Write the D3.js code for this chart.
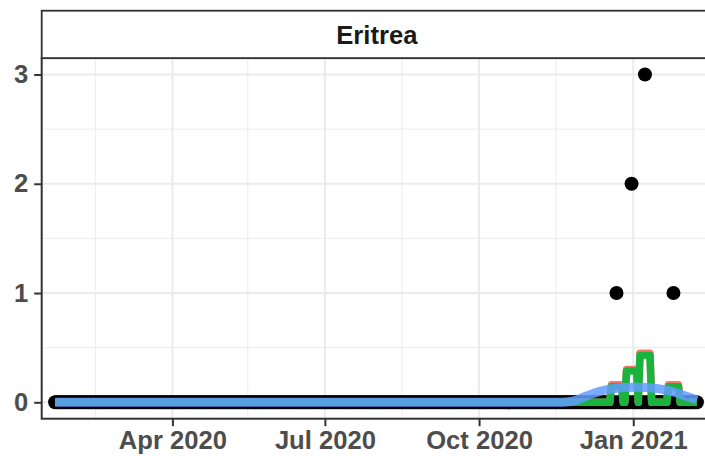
<!DOCTYPE html>
<html>
<head>
<meta charset="utf-8">
<script src="https://cdn.jsdelivr.net/npm/d3@7"></script>
<style>
  body { margin: 0; background: #fff; }
  text { font-family: "Liberation Sans", Arial, Helvetica, sans-serif; font-weight: bold; }
</style>
</head>
<body>
<div id="chart"></div>
<script>
// daily new cases (every day not listed is 0)
const firstDay = "2020-01-22";
const lastDay = "2021-02-08";
const caseDays = ["2020-12-22", "2020-12-31", "2021-01-08", "2021-01-25"];
const caseValues = [1, 2, 3, 1];

// rolling averages, breakpoints only (flat 0 between them)
const avgDates = ["2020-01-22", "2020-12-18", "2020-12-19", "2020-12-25", "2020-12-26", "2020-12-27",
    "2020-12-28", "2021-01-03", "2021-01-04", "2021-01-05", "2021-01-11", "2021-01-12",
    "2021-01-21", "2021-01-22", "2021-01-28", "2021-01-29", "2021-02-08"];
const greenValues = [0, 0, 0.143, 0.143, 0, 0, 0.286, 0.286, 0, 0.429, 0.429, 0, 0, 0.143, 0.143, 0, 0];
const redValues = [0, 0, 0.16, 0.16, 0, 0, 0.30, 0.30, 0, 0.45, 0.45, 0, 0, 0.16, 0.16, 0, 0];

// smooth trend line
const smoothDates = ["2020-01-22", "2020-11-17", "2020-11-22", "2020-11-27", "2020-12-02", "2020-12-07",
    "2020-12-12", "2020-12-17", "2020-12-22", "2020-12-27", "2021-01-01", "2021-01-06", "2021-01-11",
    "2021-01-16", "2021-01-21", "2021-01-26", "2021-01-31", "2021-02-05", "2021-02-08"];
const smoothValues = [0, 0, 0.003, 0.015, 0.045, 0.075, 0.10, 0.118, 0.128, 0.135, 0.138, 0.138, 0.134,
    0.125, 0.11, 0.09, 0.065, 0.038, 0.02];

const facetTitle = "Eritrea";
const yTicks = [0, 1, 2, 3];
const yMinor = [0.5, 1.5, 2.5];
const xTicks = ["2020-04-01", "2020-07-01", "2020-10-01", "2021-01-01"];
const xMinor = ["2020-02-15", "2020-05-16", "2020-08-16", "2020-11-16", "2021-02-15"];

const W = 705, H = 456;
const panel = {left: 41.7, top: 58.1, right: 712, bottom: 418.7};
const stripTop = 10.7;
const fontSize = 25.6;

const parse = d3.utcParse("%Y-%m-%d");

const svg = d3.select("#chart")
    .append("svg")
        .attr("width", W)
        .attr("height", H);

const x = d3.scaleUtc()
    .domain([parse("2020-01-14"), parse("2021-02-17")])
    .range([panel.left, panel.right]);

const y = d3.scaleLinear()
    .domain([-0.15, 3.15])
    .range([panel.bottom, panel.top]);

// build the series
const caseMap = new Map(caseDays.map((d, i) => [d, caseValues[i]]));
const daily = d3.utcDay.range(parse(firstDay), d3.utcDay.offset(parse(lastDay), 1))
    .map(d => ({date: d, value: caseMap.get(d3.utcFormat("%Y-%m-%d")(d)) || 0}));
const green = avgDates.map((d, i) => ({date: parse(d), value: greenValues[i]}));
const red = avgDates.map((d, i) => ({date: parse(d), value: redValues[i]}));
const smooth = smoothDates.map((d, i) => ({date: parse(d), value: smoothValues[i]}));

svg.append("clipPath").attr("id", "panel-clip")
    .append("rect")
        .attr("x", panel.left).attr("y", panel.top)
        .attr("width", panel.right - panel.left)
        .attr("height", panel.bottom - panel.top);

// grid
const grid = svg.append("g");
grid.selectAll(".ymin").data(yMinor).enter().append("line")
    .attr("x1", panel.left).attr("x2", panel.right)
    .attr("y1", d => y(d)).attr("y2", d => y(d))
    .attr("stroke", "#ebebeb").attr("stroke-width", 1);
grid.selectAll(".xmin").data(xMinor).enter().append("line")
    .attr("x1", d => x(parse(d))).attr("x2", d => x(parse(d)))
    .attr("y1", panel.top).attr("y2", panel.bottom)
    .attr("stroke", "#ebebeb").attr("stroke-width", 1);
grid.selectAll(".ymaj").data(yTicks).enter().append("line")
    .attr("x1", panel.left).attr("x2", panel.right)
    .attr("y1", d => y(d)).attr("y2", d => y(d))
    .attr("stroke", "#ebebeb").attr("stroke-width", 2);
grid.selectAll(".xmaj").data(xTicks).enter().append("line")
    .attr("x1", d => x(parse(d))).attr("x2", d => x(parse(d)))
    .attr("y1", panel.top).attr("y2", panel.bottom)
    .attr("stroke", "#ebebeb").attr("stroke-width", 2);

const plot = svg.append("g").attr("clip-path", "url(#panel-clip)");

// points
plot.append("g")
    .selectAll("circle")
    .data(daily)
    .enter().append("circle")
        .attr("cx", d => x(d.date))
        .attr("cy", d => y(d.value))
        .attr("r", 7)
        .attr("fill", "#000");

const line = d3.line()
    .x(d => x(d.date))
    .y(d => y(d.value));

plot.append("path")
    .datum(red)
    .attr("d", line)
    .attr("fill", "none")
    .attr("stroke", "#F8766D")
    .attr("stroke-width", 7.5)
    .attr("stroke-linejoin", "round");

plot.append("path")
    .datum(green)
    .attr("d", line)
    .attr("fill", "none")
    .attr("stroke", "#00BA38")
    .attr("stroke-opacity", 0.9)
    .attr("stroke-width", 7.5)
    .attr("stroke-linejoin", "round");

plot.append("path")
    .datum(smooth)
    .attr("d", line.curve(d3.curveMonotoneX))
    .attr("fill", "none")
    .attr("stroke", "#619CFF")
    .attr("stroke-opacity", 0.85)
    .attr("stroke-width", 9);

// panel border
svg.append("rect")
    .attr("x", panel.left).attr("y", panel.top)
    .attr("width", panel.right - panel.left)
    .attr("height", panel.bottom - panel.top)
    .attr("fill", "none")
    .attr("stroke", "#333")
    .attr("stroke-width", 2);

// facet strip
svg.append("rect")
    .attr("x", panel.left).attr("y", stripTop)
    .attr("width", panel.right - panel.left)
    .attr("height", panel.top - stripTop)
    .attr("fill", "#fff")
    .attr("stroke", "#333")
    .attr("stroke-width", 1.8);
svg.append("text")
    .attr("x", (panel.left + panel.right) / 2)
    .attr("y", (stripTop + panel.top) / 2)
    .attr("dy", "0.36em")
    .attr("text-anchor", "middle")
    .attr("fill", "#1a1a1a")
    .style("font-size", fontSize + "px")
    .text(facetTitle);

// axes
const xAxisGroup = svg.append("g")
    .attr("transform", `translate(0, ${panel.bottom})`)
    .call(d3.axisBottom(x)
        .tickValues(xTicks.map(parse))
        .tickFormat(d3.utcFormat("%b %Y"))
        .tickSize(7.5)
        .tickPadding(5));

const yAxisGroup = svg.append("g")
    .attr("transform", `translate(${panel.left}, 0)`)
    .call(d3.axisLeft(y)
        .tickValues(yTicks)
        .tickFormat(d3.format("d"))
        .tickSize(7.5)
        .tickPadding(6));

[xAxisGroup, yAxisGroup].forEach(g => {
    g.select(".domain").remove();
    g.selectAll(".tick line").attr("stroke", "#333").attr("stroke-width", 2);
    g.selectAll(".tick text")
        .attr("fill", "#4d4d4d")
        .style("font-size", fontSize + "px")
        .style("font-family", "'Liberation Sans', Arial, Helvetica, sans-serif")
        .style("font-weight", "bold");
});
</script>
</body>
</html>
